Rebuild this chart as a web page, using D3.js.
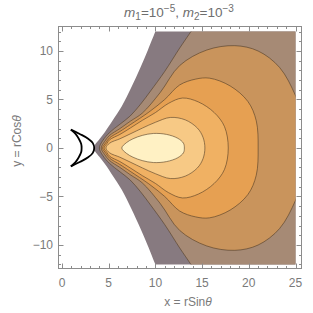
<!DOCTYPE html>
<html>
<head>
<meta charset="utf-8">
<script src="https://cdn.jsdelivr.net/npm/d3@7"></script>
<style>
body { margin: 0; background: #fff; }
svg { display: block; }
text { font-family: "Liberation Sans", Arial, sans-serif; }
</style>
</head>
<body>
<div id="chart"></div>
<script>
// upper halves (y >= 0) of each contour; the plot is mirror symmetric in y
var edgeWhite = [[3.4,0],[3.55,0.35],[4.0,0.9],[4.6,1.65],[5.4,2.8],[6.4,4.3],[7.4,6.2],[8.4,8.3],[9.2,10.1],[10.0,12.0],[10.3,12.6],[27,12.6]];
var lineA = [[4.0,0],[4.35,0.75],[5.1,1.6],[6.2,2.45],[7.3,3.3],[8.4,4.5],[9.5,5.9],[11.0,7.9],[12.6,10.3],[13.8,12.0],[14.2,12.6],[27,12.6]];
var lineB = [[4.2,0],[4.55,0.65],[5.1,1.3],[6.2,2.0],[7.3,2.75],[8.6,3.6],[10.5,5.7],[12.6,8.5],[15.5,10.1],[18.5,10.55],[21.0,10.0],[23.3,8.3],[25.0,5.4],[25.9,2.8],[26.1,0]];
var lineC = [[4.35,0],[4.7,0.55],[5.1,1.05],[6.2,1.7],[7.3,2.4],[9.3,3.7],[11.0,5.0],[12.6,6.5],[14.3,7.1],[15.8,7.2],[18.0,6.4],[19.9,4.8],[20.8,2.8],[21.0,0]];
var lineD = [[4.5,0],[4.8,0.45],[5.1,0.85],[6.2,1.4],[7.3,2.05],[8.6,2.85],[10.0,3.65],[11.4,4.6],[12.9,5.15],[14.6,4.75],[16.3,3.65],[17.4,2.2],[17.8,0]];
var lineE = [[4.7,0],[5.1,0.5],[6.2,0.95],[7.3,1.45],[8.6,2.05],[10.0,2.65],[11.6,3.15],[13.2,2.9],[14.5,2.05],[15.1,1.1],[15.3,0]];
var lineF = [[6.4,0],[6.9,0.55],[7.6,0.95],[8.6,1.3],[9.8,1.5],[11.2,1.4],[12.4,1.0],[13.0,0.5],[13.1,0]];

var bandColors = ["#877a80","#a68a75","#c9945c","#e6a052","#f0b163","#f7c985","#fff1c4"];

// black crescent near the origin
var crescentOuter = [[0.95,1.9],[1.9,1.45],[2.8,0.96],[3.3,0.5],[3.45,0]];
var crescentInner = [[0.95,1.9],[1.45,1.45],[1.8,0.95],[2.05,0.45],[2.1,0]];

var xTickLabels = [0,5,10,15,20,25];
var yTickLabels = [-10,-5,0,5,10];

var W = 313, H = 313;
var frame = {left: 58.5, right: 301.5, top: 26.5, bottom: 268.5};

var x = d3.scaleLinear().domain([0,25]).range([62,295.5]);
var y = d3.scaleLinear().domain([-12,12]).range([264.4,31.6]);

var svg = d3.select("#chart").append("svg")
  .attr("width", W)
  .attr("height", H);

svg.append("clipPath").attr("id","plotclip")
  .append("rect")
  .attr("x", x(0)).attr("y", y(12))
  .attr("width", x(25)-x(0)).attr("height", y(-12)-y(12));

// closed outline: mirrored lower half, then the upper half
function ring(pts) {
  var low = pts.slice(1).map(function(p){ return [p[0], -p[1]]; }).reverse();
  if (pts[pts.length-1][1] === 0) low = low.slice(1);
  return low.concat(pts);
}

var closedLine = d3.line()
  .x(function(d){ return x(d[0]); })
  .y(function(d){ return y(d[1]); })
  .curve(d3.curveCatmullRomClosed.alpha(0.5));

var openLine = d3.line()
  .x(function(d){ return x(d[0]); })
  .y(function(d){ return y(d[1]); })
  .curve(d3.curveCatmullRom.alpha(0.5));

var plot = svg.append("g").attr("clip-path","url(#plotclip)");

var regions = [edgeWhite, lineA, lineB, lineC, lineD, lineE, lineF];

regions.forEach(function(pts, i) {
  plot.append("path")
    .attr("d", closedLine(ring(pts)))
    .style("fill", bandColors[i])
    .style("stroke", "none");
});

regions.slice(1).forEach(function(pts) {
  plot.append("path")
    .attr("d", closedLine(ring(pts)))
    .style("fill", "none")
    .style("stroke", "#4f3a24")
    .style("stroke-opacity", 0.65)
    .style("stroke-width", 0.9);
});

// crescent: each arc goes from the upper tip down to the lower tip
[crescentOuter, crescentInner].forEach(function(pts) {
  var low = pts.slice(0, -1).map(function(p){ return [p[0], -p[1]]; }).reverse();
  svg.append("path")
    .attr("d", openLine(pts.concat(low)))
    .style("fill", "none")
    .style("stroke", "#000")
    .style("stroke-width", 1.8)
    .style("stroke-linejoin", "round");
});

// frame
svg.append("rect")
  .attr("x", frame.left).attr("y", frame.top)
  .attr("width", frame.right-frame.left).attr("height", frame.bottom-frame.top)
  .style("fill", "none")
  .style("stroke", "#8c8c8c")
  .style("stroke-width", 1);

var ticks = svg.append("g").style("stroke", "#8c8c8c").style("stroke-width", 1);

x.ticks(25).forEach(function(t) {
  var len = xTickLabels.indexOf(t) >= 0 ? 5 : 2.5;
  var px = Math.round(x(t)) + 0.5;
  ticks.append("line").attr("x1", px).attr("x2", px).attr("y1", frame.bottom).attr("y2", frame.bottom-len);
  ticks.append("line").attr("x1", px).attr("x2", px).attr("y1", frame.top).attr("y2", frame.top+len);
});

y.ticks(24).forEach(function(t) {
  var len = yTickLabels.indexOf(t) >= 0 ? 5 : 2.5;
  var py = Math.round(y(t)) + 0.5;
  ticks.append("line").attr("y1", py).attr("y2", py).attr("x1", frame.left).attr("x2", frame.left+len);
  ticks.append("line").attr("y1", py).attr("y2", py).attr("x1", frame.right).attr("x2", frame.right-len);
});

xTickLabels.forEach(function(t) {
  svg.append("text")
    .text(t)
    .attr("x", x(t))
    .attr("y", 287)
    .attr("text-anchor", "middle")
    .style("font-size", "12px")
    .style("fill", "#7a7a7a");
});

yTickLabels.forEach(function(t) {
  svg.append("text")
    .text(t < 0 ? "\u2212" + Math.abs(t) : t)
    .attr("x", 53)
    .attr("y", y(t) + 4.2)
    .attr("text-anchor", "end")
    .style("font-size", "12px")
    .style("fill", "#7a7a7a");
});

svg.append("text")
  .attr("x", 188)
  .attr("y", 306)
  .attr("text-anchor", "middle")
  .style("font-size", "12px")
  .style("fill", "#7a7a7a")
  .html("x = rSin<tspan font-style='italic'>\u03B8</tspan>");

svg.append("text")
  .attr("transform", "translate(21,141) rotate(-90)")
  .attr("text-anchor", "middle")
  .style("font-size", "12px")
  .style("fill", "#7a7a7a")
  .html("y = rCos<tspan font-style='italic'>\u03B8</tspan>");

var title = svg.append("text")
  .attr("x", 179)
  .attr("y", 17)
  .attr("text-anchor", "middle")
  .style("font-size", "13.5px")
  .style("fill", "#6e6e6e");
title.append("tspan").attr("font-style","italic").text("m");
title.append("tspan").attr("dy", 3).style("font-size","10px").text("1");
title.append("tspan").attr("dy", -3).text("=10");
title.append("tspan").attr("dy", -5).style("font-size","10px").text("\u22125");
title.append("tspan").attr("dy", 5).text(", ");
title.append("tspan").attr("font-style","italic").text("m");
title.append("tspan").attr("dy", 3).style("font-size","10px").text("2");
title.append("tspan").attr("dy", -3).text("=10");
title.append("tspan").attr("dy", -5).style("font-size","10px").text("\u22123");
</script>
</body>
</html>
